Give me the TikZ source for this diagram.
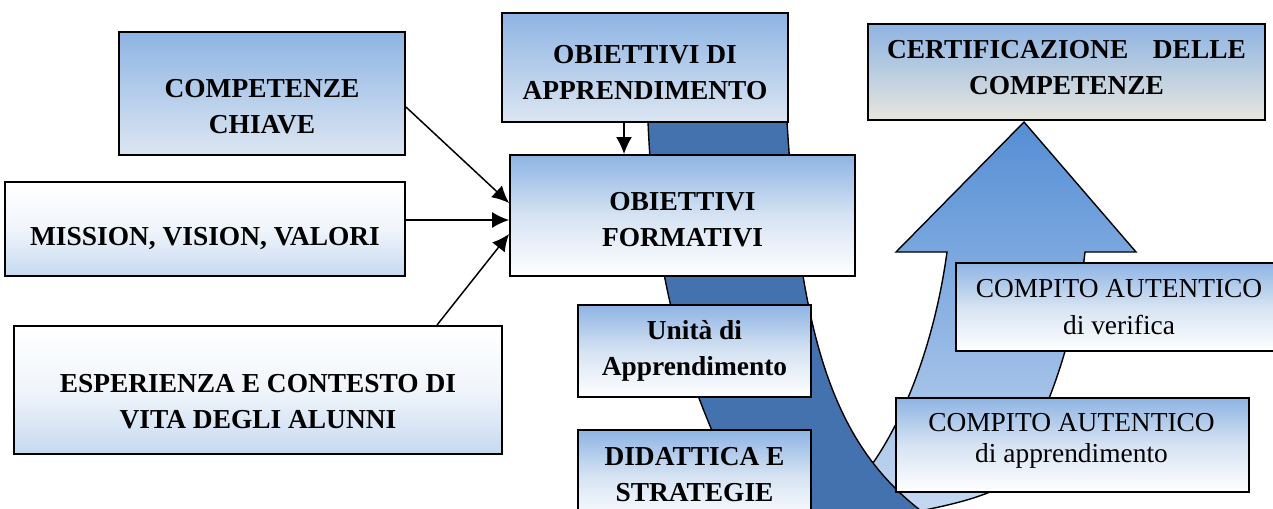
\documentclass[tikz,border=0pt]{standalone}
\usepackage{fontspec}
\setmainfont{Liberation Serif}
\usetikzlibrary{arrows.meta}
\definecolor{boxblue}{RGB}{142,180,227}
\definecolor{boxpale}{RGB}{220,230,242}
\definecolor{boxmid}{RGB}{214,227,243}
\definecolor{boxsky}{RGB}{198,217,241}
\definecolor{boxwhite}{RGB}{240,245,251}
\definecolor{boxgrey}{RGB}{231,230,222}
\definecolor{bandblue}{RGB}{68,114,174}
\definecolor{uptop}{RGB}{85,142,213}

\begin{document}
\begin{tikzpicture}[x=0.02cm,y=-0.02cm,
    boxbase/.style={draw, line width=1.1pt, inner sep=0pt},
    blueup/.style={boxbase, top color=boxblue, bottom color=boxpale},
    bluefade/.style={boxbase, top color=boxblue, bottom color=white, middle color=boxmid},
    whiteup/.style={boxbase, top color=white, bottom color=boxsky, middle color=boxwhite},
    greyup/.style={boxbase, top color=boxblue, bottom color=boxgrey},
    txt/.style={align=center, inner sep=0pt, font=\bfseries\fontsize{15.6}{20.5}\selectfont},
    normtxt/.style={align=center, inner sep=0pt, font=\fontsize{15.6}{21}\selectfont},
    arr/.style={-{Latex[length=3.4mm,width=3.2mm]}, line width=0.85pt}]
        \useasboundingbox (0,0) rectangle (1273,508);
        \clip (0,0) rectangle (1273,508);
        \draw[line width=0.8pt, top color=uptop, bottom color=boxsky] (1024,122) -- (1136,252) -- (1085,252)
            .. controls (1075,340) and (1040,450) .. (990,492) .. controls (965,502) and (940,507) .. (905,514)
            -- (840,516) -- (868,470) .. controls (905,420) and (935,340) .. (947,252) -- (896,252) -- cycle;
        \draw[line width=0.8pt, fill=bandblue] (648,110) -- (787,110) -- (787,122)
            .. controls (800,330) and (830,440) .. (920,510) -- (920,530) -- (760,530)
            .. controls (680,380) and (655,280) .. (648,122) -- cycle;

        \node[blueup, minimum width=5.72cm, minimum height=2.46cm] (comp) at (262,93.5) {};
        \node[txt] (compt) at (262,107) {COMPETENZE\\CHIAVE};
        \node[whiteup, minimum width=8cm, minimum height=1.88cm] (miss) at (205,229) {};
        \node[txt] (misst) at (205,239) {MISSION, VISION, VALORI};
        \node[whiteup, minimum width=9.76cm, minimum height=2.56cm] (esp) at (258,390) {};
        \node[txt] (espt) at (258,402) {ESPERIENZA E CONTESTO DI\\VITA DEGLI ALUNNI};
        \node[blueup, minimum width=5.72cm, minimum height=2.18cm] (oda) at (645,67.5) {};
        \node[txt] (odat) at (645,73) {OBIETTIVI DI\\APPRENDIMENTO};
        \node[bluefade, minimum width=6.9cm, minimum height=2.42cm] (form) at (682.5,215.5) {};
        \node[txt] (formt) at (682.5,220) {OBIETTIVI\\FORMATIVI};
        \node[bluefade, minimum width=4.66cm, minimum height=1.84cm] (uda) at (694.5,351) {};
        \node[txt] (udat) at (694.5,351) {Unità di\\Apprendimento};
        \node[bluefade, minimum width=4.66cm, minimum height=1.84cm] (did) at (694.5,476) {};
        \node[txt] (didt) at (694.5,474.5) {DIDATTICA E\\STRATEGIE};
        \node[greyup, minimum width=7.94cm, minimum height=1.92cm] (cert) at (1066.5,72) {};
        \node[txt] (certt) at (1066.5,68) {CERTIFICAZIONE\hspace{0.9em}DELLE\\COMPETENZE};
        \node[bluefade, minimum width=6.68cm, minimum height=1.76cm] (cav) at (1123,307) {};
        \node[normtxt] (cavt) at (1119,307) {COMPITO AUTENTICO\\di verifica};
        \node[bluefade, minimum width=7.06cm, minimum height=1.88cm] (caa) at (1072.5,445) {};
        \node[normtxt, font=\fontsize{15.6}{17.6}\selectfont] (caat) at (1071.5,441) {COMPITO AUTENTICO\\di apprendimento};

        \draw[arr] ([yshift=-0.27cm]comp.east) -- ([yshift=0.25cm]form.west);
        \draw[arr] ([yshift=0.18cm]miss.east) -- ([yshift=0.18cm]miss.east -| form.west);
        \draw[arr] ([xshift=3.58cm]esp.north) -- ([yshift=-0.37cm]form.west);
        \draw[arr] ([xshift=-0.42cm]oda.south) -- ([xshift=-0.42cm]oda.south |- form.north);
    \end{tikzpicture}
\end{document}
